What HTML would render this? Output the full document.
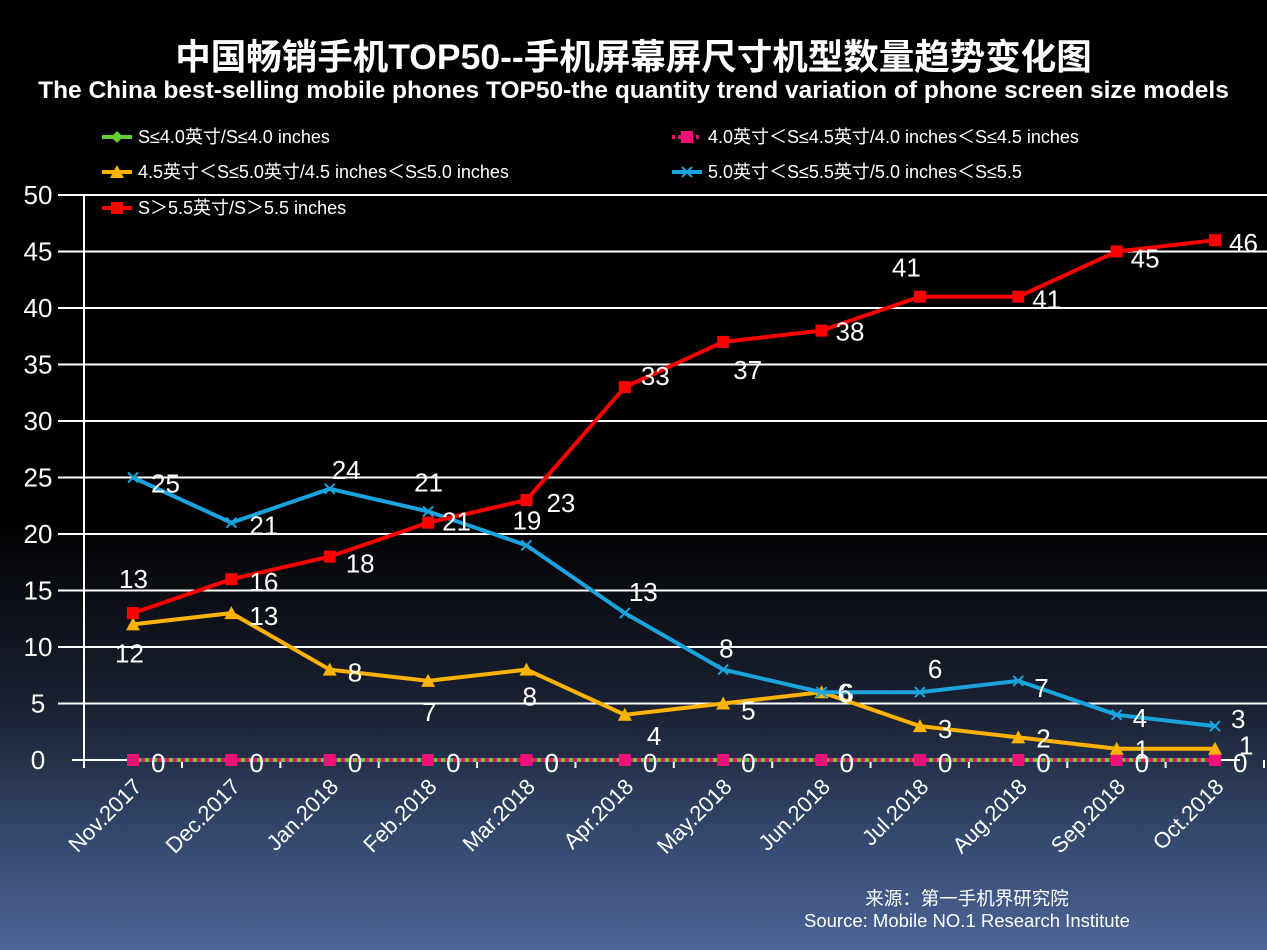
<!DOCTYPE html>
<html><head><meta charset="utf-8"><style>
html,body{margin:0;padding:0;}
body{width:1267px;height:950px;overflow:hidden;background:linear-gradient(to bottom,#000 0px,#000 520px,#1c2436 720px,#33476b 830px,#4c6596 950px);font-family:"Liberation Sans","Noto Sans CJK SC",sans-serif;color:#fff;position:relative;}
.t1{position:absolute;top:29px;left:0;width:1267px;text-align:center;font-size:35.5px;font-weight:bold;}
.t2{position:absolute;top:77px;left:0;width:1267px;text-align:center;font-size:24.5px;font-weight:bold;}
.src{position:absolute;top:888px;left:782px;width:370px;text-align:center;font-size:18.5px;line-height:22px;}
svg{position:absolute;left:0;top:0;}
</style></head><body>
<div class="t1">中国畅销手机TOP50--手机屏幕屏尺寸机型数量趋势变化图</div>
<div class="t2">The China best-selling mobile phones TOP50-the quantity trend variation of phone screen size models</div>
<svg id="c" width="1267" height="950"></svg>
<div class="src">来源：第一手机界研究院<br>Source: Mobile NO.1 Research Institute</div>
<script>
const categories=["Nov.2017","Dec.2017","Jan.2018","Feb.2018","Mar.2018","Apr.2018","May.2018","Jun.2018","Jul.2018","Aug.2018","Sep.2018","Oct.2018"];
const yTicks=[0,5,10,15,20,25,30,35,40,45,50];
const s1=[0,0,0,0,0,0,0,0,0,0,0,0];
const s2=[0,0,0,0,0,0,0,0,0,0,0,0];
const s3=[12,13,8,7,8,4,5,6,3,2,1,1];
const s4=[25,21,24,22,19,13,8,6,6,7,4,3];
const s4Labels=[25,21,24,21,19,13,8,6,6,7,4,3];
const s5=[13,16,18,21,23,33,37,38,41,41,45,46];
const NS="http://www.w3.org/2000/svg";
const svg=document.getElementById('c');
const x=i=>133+i*(1215-133)/11;
const y=v=>760-v*(760-195)/50;
function mk(t,a,p){const e=document.createElementNS(NS,t);for(const k in a)if(a[k]!=null)e.setAttribute(k,a[k]);(p||svg).appendChild(e);return e;}
yTicks.forEach(v=>{
 if(v>0){const g=mk('line',{x1:58,x2:1267,y1:y(v),y2:y(v),stroke:'#fff','stroke-width':2});
 
 }
 const t=mk('text',{x:38,y:y(v)+9,'text-anchor':'middle','font-size':26,fill:'#fff'});t.textContent=v;
 
 
});
mk('line',{x1:84,x2:84,y1:195,y2:768,stroke:'#fff','stroke-width':2});
mk('line',{x1:72,x2:1240,y1:760,y2:760,stroke:'#fff','stroke-width':2});
categories.forEach((c,i)=>{
 mk('line',{x1:x(i)+49,x2:x(i)+49,y1:760,y2:768,stroke:'#fff','stroke-width':2});
 const t=mk('text',{transform:`translate(${x(i)+10},${788}) rotate(-45)`,'text-anchor':'end','font-size':22,fill:'#fff'});t.textContent=c;
 
 
});
function series(vals,color,name,marker,labels,off){
 const g=mk('g',{});
 
 
 mk('polyline',{points:vals.map((v,i)=>x(i)+','+y(v)).join(' '),fill:'none',stroke:color,'stroke-width':4},g);
 vals.forEach((v,i)=>{
  const cx=x(i),cy=y(v);
  if(marker==='sq')mk('rect',{x:cx-6,y:cy-6,width:12,height:12,fill:color},g);
  else if(marker==='tri')mk('polygon',{points:`${cx},${cy-7} ${cx+7},${cy+6} ${cx-7},${cy+6}`,fill:color},g);
  else if(marker==='x'){mk('path',{d:`M${cx-5} ${cy-5}L${cx+5} ${cy+5}M${cx+5} ${cy-5}L${cx-5} ${cy+5}`,stroke:color,'stroke-width':2},g);}
  if(labels){const o=off(i);const t=mk('text',{x:cx+o[0],y:cy+o[1],'font-size':26,fill:'#fff'},g);t.textContent=labels[i];
   
   }
 });
}
series(s1,'#66cc33','series-s-le-4',null,null);
series(s2,'#ee1177','series-4-to-4-5','sq',s2,i=>[18,12]);
svg.lastChild.querySelector('polyline').setAttribute('stroke-dasharray','4 4');
series(s3,'#ffb300','series-4-5-to-5','tri',s3,i=>[[-18,38],[18,12],[18,12],[-6,40],[-4,36],[22,30],[18,16],[18,10],[18,12],[18,10],[18,10],[24,6]][i]);
series(s4,'#1aa3dd','series-5-to-5-5','x',s4Labels,i=>[[18,15],[18,12],[2,-10],[-14,-20],[-14,-16],[4,-12],[-4,-12],[16,10],[8,-14],[16,16],[16,12],[16,2]][i]);
series(s5,'#ff0000','series-gt-5-5','sq',s5,i=>[[-14,-25],[18,12],[16,16],[14,8],[20,12],[16,-2],[10,37],[14,10],[-28,-20],[14,12],[14,16],[14,12]][i]);
const legend=[["#66cc33","diamond","S≤4.0英寸/S≤4.0 inches",125,137],["#ee1177","sq","4.0英寸＜S≤4.5英寸/4.0 inches＜S≤4.5 inches",695,137],["#ffb300","tri","4.5英寸＜S≤5.0英寸/4.5 inches＜S≤5.0 inches",125,172],["#1aa3dd","x","5.0英寸＜S≤5.5英寸/5.0 inches＜S≤5.5",695,172],["#ff0000","sq","S＞5.5英寸/S＞5.5 inches",125,208]];
legend.forEach(l=>{
 const g=mk('g',{});
 
 
 const [c,m,txt,lx,ly]=l;
 mk('line',{x1:lx-23,x2:lx+7,y1:ly,y2:ly,stroke:c,'stroke-width':4,'stroke-dasharray':m==='sq'&&lx>600?'3 3':null},g);
 const cx=lx-8;
 if(m==='diamond')mk('polygon',{points:`${cx},${ly-6} ${cx+6},${ly} ${cx},${ly+6} ${cx-6},${ly}`,fill:c},g);
 else if(m==='sq')mk('rect',{x:cx-6,y:ly-6,width:12,height:12,fill:c},g);
 else if(m==='tri')mk('polygon',{points:`${cx},${ly-7} ${cx+7},${ly+6} ${cx-7},${ly+6}`,fill:c},g);
 else mk('path',{d:`M${cx-5} ${ly-5}L${cx+5} ${ly+5}M${cx+5} ${ly-5}L${cx-5} ${ly+5}`,stroke:c,'stroke-width':2},g);
 const t=mk('text',{x:lx+13,y:ly+6,'font-size':18,fill:'#fff'},g);t.textContent=txt;
});
</script>
</body></html>
